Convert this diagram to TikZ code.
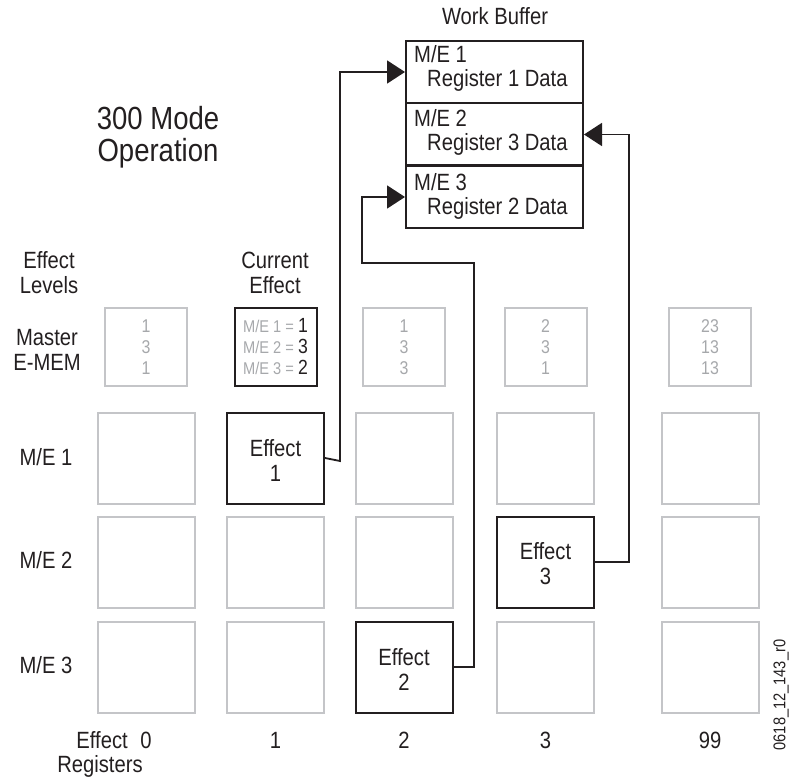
\documentclass[tikz,border=0pt]{standalone}
\usepackage{fontspec}
\setmainfont{Liberation Sans}[FakeStretch=0.86]
\usetikzlibrary{arrows.meta}
\definecolor{ink}{HTML}{231F20}
\definecolor{lgray}{HTML}{C4C5C8}
\definecolor{tgray}{HTML}{A6A8AB}
\newcommand\fsz[1]{\fontsize{#1}{#1}\selectfont}
\begin{document}
\begin{tikzpicture}[x=1pt,y=-1pt,
  lbl/.style={font=\fsz{23.5}, text=ink, anchor=base, inner sep=0pt},
  cell/.style={draw=lgray, line width=2pt, minimum width=97pt, minimum height=91pt, inner sep=0pt},
  hot/.style={draw=ink, line width=2pt, minimum width=97pt, minimum height=91pt, inner sep=0pt},
  mem/.style={draw=lgray, line width=2pt, minimum width=82pt, minimum height=78pt, inner sep=0pt},
  curmem/.style={draw=ink, line width=2pt, minimum width=82pt, minimum height=78pt, inner sep=0pt},
  wbox/.style={draw=ink, line width=2pt, minimum width=177pt, minimum height=62pt, inner sep=0pt},
  digit/.style={font=\fsz{18.5}, text=tgray, anchor=base, inner sep=0pt},
  link/.style={draw=ink, line width=1.8pt},
  tip/.style={-{Triangle[length=18pt,width=23pt]}}]
\useasboundingbox (0,0) rectangle (789,778);

% title
\node[lbl, font=\fsz{32}] (t1) at (158,130) {300 Mode};
\node[lbl, font=\fsz{32}] (t2) at (158,162) {Operation};

% work buffer
\node[lbl] (wbt) at (495,25) {Work Buffer};
\node[wbox] (wb1) at (494.5,72) {};
\node[wbox] (wb2) at (494.5,134.5) {};
\node[wbox] (wb3) at (494.5,197) {};
\node[lbl, anchor=base west] (w1a) at (414,63) {M/E 1};
\node[lbl, anchor=base west] (w1b) at (427,87) {Register 1 Data};
\node[lbl, anchor=base west] (w2a) at (414,127) {M/E 2};
\node[lbl, anchor=base west] (w2b) at (427,151) {Register 3 Data};
\node[lbl, anchor=base west] (w3a) at (414,190) {M/E 3};
\node[lbl, anchor=base west] (w3b) at (427,214) {Register 2 Data};

% left labels
\node[lbl] (el1) at (49,268) {Effect};
\node[lbl] (el2) at (49,293) {Levels};
\node[lbl] (ce1) at (275,268) {Current};
\node[lbl] (ce2) at (275,293) {Effect};
\node[lbl] (ma1) at (47,345) {Master};
\node[lbl] (ma2) at (47,370) {E-MEM};
\node[lbl] (r1) at (46,465) {M/E 1};
\node[lbl] (r2) at (46,568) {M/E 2};
\node[lbl] (r3) at (46,673) {M/E 3};

% master E-MEM row
\foreach \n/\x/\a/\b/\c in {m0/146/1/3/1, m2/404/1/3/3, m3/545.5/2/3/1, m4/710/23/13/13}{
  \node[mem] (\n) at (\x,347) {};
  \node[digit] (\n a) at (\x,332) {\a};
  \node[digit] (\n b) at (\x,353) {\b};
  \node[digit] (\n c) at (\x,374) {\c};
}
\node[curmem] (m1) at (275.5,347) {};
\node[lbl, anchor=base west] (cm1) at (243,332) {\textcolor{tgray}{\fsz{17}M/E 1 = }{\fsz{20.5}1}};
\node[lbl, anchor=base west] (cm2) at (243,353) {\textcolor{tgray}{\fsz{17}M/E 2 = }{\fsz{20.5}3}};
\node[lbl, anchor=base west] (cm3) at (243,374) {\textcolor{tgray}{\fsz{17}M/E 3 = }{\fsz{20.5}2}};

% register grid
\foreach \n/\x/\y in {c01/146/458, c21/404/458, c31/545.5/458, c41/710/458,
                      c02/146/562, c12/275.5/562, c22/404/562, c42/710/562,
                      c03/146/667, c13/275.5/667, c33/545.5/667, c43/710/667}{
  \node[cell] (\n) at (\x,\y) {};
}
\node[hot] (e1) at (275.5,458) {};
\node[hot] (e3) at (545.5,562) {};
\node[hot] (e2) at (404,667) {};
\node[lbl] (e1a) at (275.5,456) {Effect};
\node[lbl] (e1b) at (275.5,481) {1};
\node[lbl] (e3a) at (545.5,559) {Effect};
\node[lbl] (e3b) at (545.5,584) {3};
\node[lbl] (e2a) at (404,665) {Effect};
\node[lbl] (e2b) at (404,690) {2};

% bottom labels
\node[lbl, anchor=base east] (er1) at (128,748) {Effect};
\node[lbl] (er2) at (100,772) {Registers};
\node[lbl] (n0) at (146,748) {0};
\node[lbl] (n1) at (275.5,748) {1};
\node[lbl] (n2) at (404,748) {2};
\node[lbl] (n3) at (545.5,748) {3};
\node[lbl] (n99) at (710,748) {99};
\node[font=\fsz{17}, text=ink, rotate=90, inner sep=0pt] (fig) at (781,695) {0618\_12\_143\_r0};

% connectors
\coordinate (k1) at (340,461);
\coordinate (k2a) at (474,263);
\coordinate (k2b) at (362,263);
\coordinate (k3) at (629,562);
\draw[link, tip] (e1.east) -- (k1) |- (wb1.west);
\draw[link, tip] (e2.east) -| (k2a) -- (k2b) |- (wb3.west);
\draw[link, tip] (e3.east) -- (k3) |- (wb2.east);
\end{tikzpicture}
\end{document}
